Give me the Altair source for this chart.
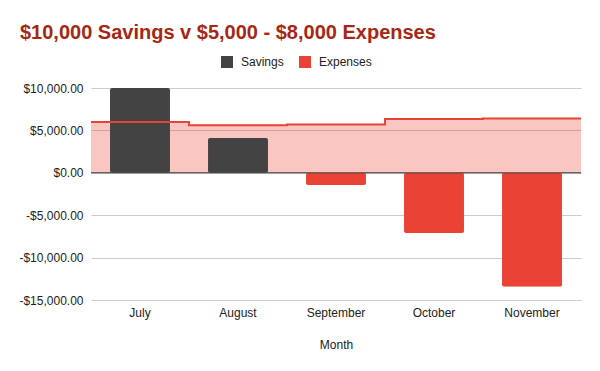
import altair as alt
import pandas as pd

months = ["July", "August", "September", "October", "November"]
savings = [10000, 4100, -1450, -7100, -13450]
expenses = [6000, 5600, 5700, 6350, 6400]
y_ticks = [-15000, -10000, -5000, 0, 5000, 10000]

bars_df = pd.DataFrame({
    "Month": months,
    "Savings": savings,
    "Type": ["Savings" if v >= 0 else "Expenses" for v in savings],
})

# step area: one point per month start, plus a closing point repeating the last value
idx = list(range(len(months))) + [len(months)]
exp_vals = expenses + [expenses[-1]]
area_df = pd.DataFrame({"i": idx, "Expenses": exp_vals})

FONT = "Liberation Sans"
RED = "#ea4335"
DARK = "#434343"

yscale = alt.Scale(domain=[-15000, 10000], nice=False, zero=False)
label_expr = "datum.value < 0 ? '-' + format(-datum.value, '$,.2f') : format(datum.value, '$,.2f')"
yaxis = alt.Axis(values=y_ticks, labelExpr=label_expr, title=None,
                 grid=True, gridColor="#cccccc", domain=False, ticks=False,
                 labelPadding=8, labelFontSize=12, labelColor="#222222",
                 labelFont=FONT)
xq = alt.Scale(domain=[0, len(months)], nice=False, zero=False)

area = alt.Chart(area_df).mark_area(
    interpolate="step-after", color=RED, opacity=0.3
).encode(
    x=alt.X("i:Q", scale=xq, axis=None),
    y=alt.Y("Expenses:Q", scale=yscale, axis=yaxis),
)

bars = alt.Chart(bars_df).mark_bar(cornerRadius=2).encode(
    x=alt.X("Month:N", sort=months,
            scale=alt.Scale(paddingInner=0.388, paddingOuter=0.194),
            axis=alt.Axis(title="Month", labelAngle=0, domain=False, ticks=False,
                          labelPadding=7, labelFontSize=12, labelColor="#222222",
                          labelFont=FONT, titleFont=FONT, titleFontSize=12,
                          titleFontWeight="normal", titleColor="#222222",
                          titlePadding=21, grid=False)),
    y=alt.Y("Savings:Q", scale=yscale, axis=yaxis),
    color=alt.Color("Type:N",
                    scale=alt.Scale(domain=["Savings", "Expenses"], range=[DARK, RED]),
                    legend=alt.Legend(title=None, orient="none", direction="horizontal",
                                      legendX=130, legendY=-32, symbolType="square",
                                      symbolSize=144, symbolStrokeWidth=0,
                                      labelFont=FONT, labelFontSize=12,
                                      labelColor="#222222", columnPadding=15,
                                      labelOffset=8, symbolOpacity=1)),
)

line = alt.Chart(area_df).mark_line(
    interpolate="step-after", color=RED, strokeWidth=2
).encode(
    x=alt.X("i:Q", scale=xq, axis=None),
    y=alt.Y("Expenses:Q", scale=yscale, axis=yaxis),
)

zero = alt.Chart(pd.DataFrame({"z": [0]})).mark_rule(color="#333333", strokeWidth=1).encode(
    y=alt.Y("z:Q", scale=yscale, axis=yaxis),
)

chart = alt.layer(area, bars, line, zero).resolve_scale(x="independent").properties(
    width=490,
    height=212,
    autosize=alt.AutoSizeParams(type="none"),
    padding={"left": 83, "top": 80, "right": 11, "bottom": 63},
    title=alt.TitleParams(
        "$10,000 Savings v $5,000 - $8,000 Expenses",
        anchor="start", frame="group", dx=-71, font=FONT, fontSize=20,
        fontWeight="bold", color="#a52714", offset=13,
    ),
).configure_view(stroke=None)

chart.save("out.html", embed_options={"renderer": "svg", "actions": False})
